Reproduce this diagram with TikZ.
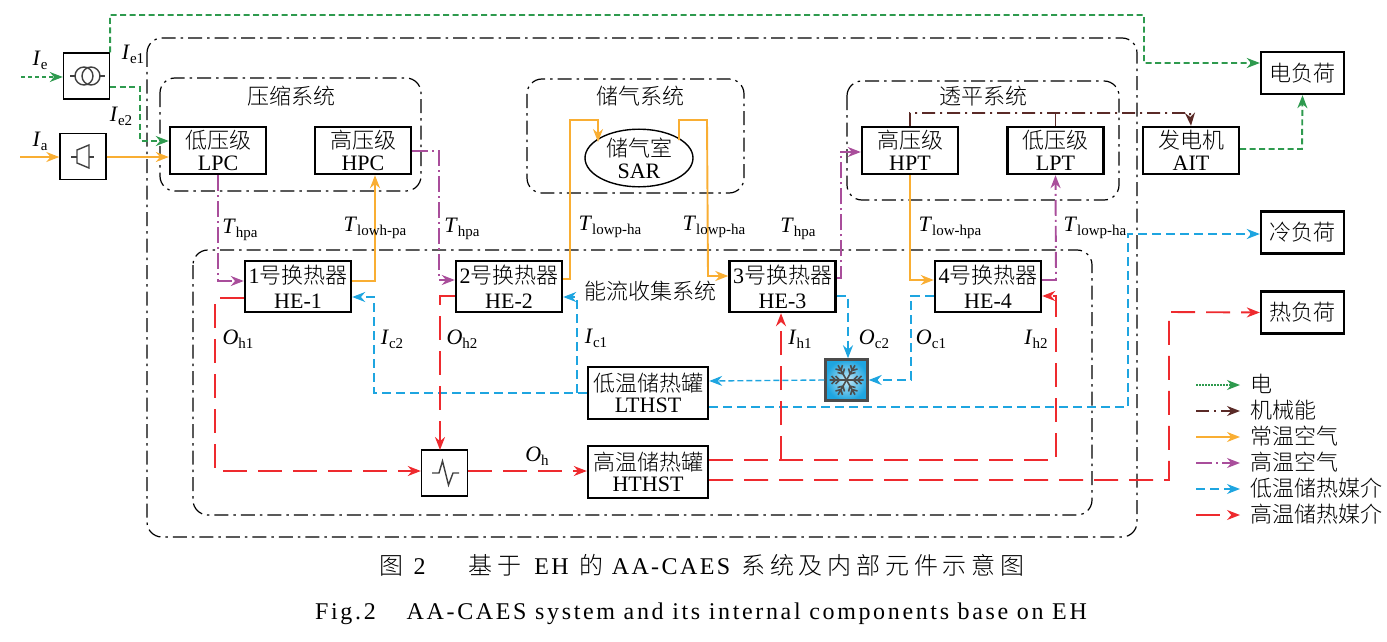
\documentclass[tikz,border=0pt]{standalone}
\usepackage{fontspec}
\setmainfont{Liberation Serif}
\newfontfamily\cjk{Noto Sans CJK SC Light}
\newfontfamily\capcjk[LetterSpace=20]{Noto Sans CJK SC Light}
\newfontfamily\capfont[LetterSpace=10]{Liberation Serif}
\newfontfamily\capwide[LetterSpace=11]{Liberation Serif}
\usetikzlibrary{shapes.geometric, arrows.meta, positioning, calc}
\newcommand{\cn}[1]{{\cjk #1}}
\newcommand{\qlabel}[2]{\textit{#1}\raisebox{-4pt}{\fontsize{15}{15}\selectfont #2}}
\definecolor{elecc}{HTML}{2E9A4E}
\definecolor{mechc}{HTML}{5A2A27}
\definecolor{airc}{HTML}{F9AE33}
\definecolor{hotairc}{HTML}{A94E9B}
\definecolor{coldc}{HTML}{1EA5E0}
\definecolor{heatc}{HTML}{EE2A2E}
\tikzset{
  tip/.style={-{Stealth[length=13pt,width=10pt]}},
  unit/.style={draw, line width=2.4pt, fill=white, align=center, inner sep=0pt, font=\fontsize{22}{22}\selectfont},
  compbox/.style={unit, minimum width=96pt, minimum height=47pt},
  hebox/.style={unit, minimum width=106pt, minimum height=51pt},
  tankbox/.style={unit, minimum width=120pt, minimum height=52pt},
  loadbox/.style={unit, minimum width=83pt, minimum height=42pt},
  symbox/.style={draw, line width=1.4pt, minimum width=46pt, minimum height=46pt, inner sep=0pt},
  frame/.style={line width=1.2pt, rounded corners=15pt, dash pattern=on 14pt off 5pt on 2.5pt off 5pt},
  sysname/.style={font=\fontsize{22}{22}\selectfont},
  qty/.style={font=\fontsize{22}{22}\selectfont, inner sep=0pt},
  elecline/.style={color=elecc, line width=1.9pt, dash pattern=on 6pt off 3.5pt},
  mechline/.style={color=mechc, line width=1.9pt, dash pattern=on 13pt off 5pt on 2pt off 5pt},
  airline/.style={color=airc, line width=1.9pt},
  hotline/.style={color=hotairc, line width=1.9pt, dash pattern=on 16pt off 4pt on 2pt off 4pt},
  coldline/.style={color=coldc, line width=1.9pt, dash pattern=on 9pt off 5pt},
  heatline/.style={color=heatc, line width=1.9pt, dash pattern=on 24pt off 11pt},
  legelec/.style={elecline, dash pattern=on 1.5pt off 1.5pt},
  symline/.style={line width=1.4pt, color=black!75},
}
\begin{document}
\begin{tikzpicture}[x=1pt,y=-1pt]
\useasboundingbox (0,0) rectangle (1387,642);
% system frames
\draw[frame] (147,38) rectangle (1137,537);
\draw[frame] (160,78) rectangle (421,191);
\draw[frame] (527,79) rectangle (744,193);
\draw[frame] (847,81) rectangle (1119,200);
\draw[frame] (193,250) rectangle (1092,515);
\node[sysname] (ncomp) at (291,96) {\cn{压缩系统}};
\node[sysname] (nstor) at (640,96) {\cn{储气系统}};
\node[sysname] (nturb) at (983,96) {\cn{透平系统}};
\node[sysname] (ncoll) at (650,291) {\cn{能流收集系统}};

% units
\node[symbox] (xfm) at (86.5,76) {};
\node[symbox] (cmp) at (83,156.5) {};
\node[symbox] (htx) at (444.5,473) {};
\node[compbox] (lpc) at (218,150.5) {\cn{低压级}\\LPC};
\node[compbox] (hpc) at (363,150.5) {\cn{高压级}\\HPC};
\node[compbox] (hpt) at (910,150.5) {\cn{高压级}\\HPT};
\node[compbox] (lpt) at (1055.5,150.5) {\cn{低压级}\\LPT};
\node[compbox] (ait) at (1191,150.5) {\cn{发电机}\\AIT};
\node[unit, ellipse, minimum width=108pt, minimum height=52pt, line width=1.4pt] (sar) at (639,158) {\cn{储气室}\\SAR};
\node[hebox] (he1) at (298,286.5) {1\cn{号换热器}\\[3pt]HE-1};
\node[hebox] (he2) at (509,286.5) {2\cn{号换热器}\\[3pt]HE-2};
\node[hebox] (he3) at (782.5,286.5) {3\cn{号换热器}\\[3pt]HE-3};
\node[hebox] (he4) at (988,286.5) {4\cn{号换热器}\\[3pt]HE-4};
\node[tankbox] (lthst) at (648,393) {\cn{低温储热罐}\\[-1pt]LTHST};
\node[tankbox] (hthst) at (648,472) {\cn{高温储热罐}\\[-1pt]HTHST};
\node[loadbox] (eload) at (1302.5,73) {\cn{电负荷}};
\node[loadbox] (cload) at (1302.5,232.5) {\cn{冷负荷}};
\node[loadbox] (hload) at (1302.5,312.5) {\cn{热负荷}};
\node[draw=black!70, line width=2.4pt, minimum width=42pt, minimum height=41pt, inner sep=0pt, inner color=coldc!25, outer color=coldc] (snow) at (846.5,380) {};

% symbols
\draw[symline] (70,76) -- (75,76) (100,76) -- (105,76);
\draw[symline] (84,76) circle (9) (91,76) circle (9);
\draw[symline] (71,157) -- (77,157) (89,157) -- (94,157);
\draw[symline] (77,150) -- (89,145) -- (89,168) -- (77,163) -- cycle;
\draw[symline] (432,473) -- (439,473) -- (442.5,461) -- (448.5,485) -- (453,473) -- (459,473);
\begin{scope}[shift={(snow.center)}]
\foreach \ang in {0,60,...,300}
  \draw[line width=1.6pt, color=black!70, rotate=\ang] (0,0) -- (17,0) (7,0) -- (11,-4) (7,0) -- (11,4) (11,0) -- (15,-4) (11,0) -- (15,4);
\end{scope}

% electricity
\draw[elecline, tip] (xfm.north east) -- (110,15) -- (1144,15) -- (1144,63) -- ([yshift=10pt]eload.west);
\coordinate (ein) at (21,77);
\draw[elecline, tip, line width=1.2pt, dash pattern=on 4pt off 3pt] (ein) -- (xfm.west |- ein);
\draw[elecline, tip] ([yshift=-11pt]xfm.east) -- (140,87) -- (140,141) -- ([yshift=9.5pt]lpc.west);
\draw[elecline, tip] ([yshift=1.5pt]ait.east) -- (1302,149) -- (eload.south);
% mechanical
\draw[mechline, solid] (lpt.north) -- ++(0,-14);
\draw[mechline, tip] (hpt.north) -- (910,113) -- (1190,113) -- (ait.north);
% normal air
\coordinate (ain) at (20,157);
\draw[airline, tip, line width=1.4pt] (ain) -- (cmp.west |- ain);
\draw[airline, tip, line width=1.4pt] (cmp.east |- ain) -- ([yshift=-6.5pt]lpc.west);
\draw[airline, tip] ([yshift=5.5pt]he1.east) -- (375,281) -- ([xshift=12pt]hpc.south);
\draw[airline, tip] ([yshift=7.5pt]he2.east) -- (570,279) -- (570,120) -- (598,120) -- (598,142);
\draw[airline, tip] (679,140) -- (679,120) -- (707,120) -- (708,276) -- ([yshift=10.5pt]he3.west);
\draw[airline, tip] (hpt.south) -- (910,280) -- ([yshift=6.5pt]he4.west);
% hot air
\draw[hotline, tip] (lpc.south) -- (218,281) -- ([yshift=5.5pt]he1.west);
\draw[hotline, tip] ([yshift=-0.5pt]hpc.east) -- (439,151) -- (439,280) -- ([yshift=6.5pt]he2.west);
\draw[hotline, tip] ([yshift=8.5pt]he3.east) -- (841,278) -- (841,152) -- ([yshift=-1.5pt]hpt.west);
\draw[hotline, tip] ([yshift=6.5pt]he4.east) -- (1056,280) -- (lpt.south);
% cold medium
\draw[coldline, tip] ([yshift=-9.5pt]he3.east) -- (848,296) -- (snow.north -| 848,0);
\draw[coldline, tip] ([yshift=-9.5pt]he4.west) -- (911,296) -- (911,380) -- (snow.east);
\draw[coldline, tip, line width=1.4pt, dash pattern=on 6pt off 3pt] (snow.west) -- ([yshift=12pt]lthst.east);
\draw[coldline, tip] ([yshift=-14pt]lthst.east) -- (1128,407) -- (1128,234) -- ([yshift=-1.5pt]cload.west);
\draw[coldline, tip] (lthst.west) -- (374,393) -- (374,297) -- ([yshift=-10.5pt]he1.east);
\draw[coldline, tip] (577,393) -- (577,297) -- ([yshift=-10.5pt]he2.east);
% hot medium
\draw[heatline, tip] ([yshift=-11.5pt]he1.west) -- (215,298) -- (215,471) -- ([yshift=2pt]htx.west);
\draw[heatline, tip] ([yshift=-9.5pt]he2.west) -- (440,296) -- (440,450);
\draw[heatline, tip, line width=1.3pt] ([yshift=2pt]htx.east) -- ([yshift=1pt]hthst.west);
\draw[heatline, tip] ([yshift=12pt]hthst.east) -- (1056,460) -- (1056,296) -- ([yshift=-9.5pt]he4.east);
\draw[heatline, tip] (781,460) -- (he3.south -| 781,0);
\draw[heatline, tip] ([yshift=-8pt]hthst.east) -- (1169,480) -- (1169,312) -- (hload.west);

% quantities
\node[qty] (ie) at (40,60) {\qlabel{I}{e}};
\node[qty] (ie1) at (133,54) {\qlabel{I}{e1}};
\node[qty] (ie2) at (121,116) {\qlabel{I}{e2}};
\node[qty] (ia) at (40,141) {\qlabel{I}{a}};
\node[qty] (thpa1) at (240,230) {\qlabel{T}{hpa}};
\node[qty] (tlowh) at (375,228) {\qlabel{T}{lowh-pa}};
\node[qty] (thpa2) at (462,229) {\qlabel{T}{hpa}};
\node[qty] (tlowp1) at (610,227) {\qlabel{T}{lowp-ha}};
\node[qty] (tlowp2) at (714,227) {\qlabel{T}{lowp-ha}};
\node[qty] (thpa3) at (798,229) {\qlabel{T}{hpa}};
\node[qty] (tlowh2) at (950,228) {\qlabel{T}{low-hpa}};
\node[qty] (tlowp3) at (1095,228) {\qlabel{T}{lowp-ha}};
\node[qty] (oh1) at (238,339) {\qlabel{O}{h1}};
\node[qty] (ic2) at (392,339) {\qlabel{I}{c2}};
\node[qty] (oh2) at (462,339) {\qlabel{O}{h2}};
\node[qty] (ic1) at (596,338) {\qlabel{I}{c1}};
\node[qty] (oh) at (537,456) {\qlabel{O}{h}};
\node[qty] (ih1) at (800,339) {\qlabel{I}{h1}};
\node[qty] (oc2) at (874,339) {\qlabel{O}{c2}};
\node[qty] (oc1) at (931,339) {\qlabel{O}{c1}};
\node[qty] (ih2) at (1036,339) {\qlabel{I}{h2}};

% legend
\foreach \i/\ypos/\sty/\txt in {1/385/legelec/电, 2/411/mechline/机械能, 3/437/airline/常温空气, 4/463/hotline/高温空气, 5/489/coldline/低温储热媒介, 6/515/heatline/高温储热媒介} {
  \coordinate (lgs\i) at (1196,\ypos);
  \node[sysname, anchor=west, inner sep=0pt] (lg\i) at (1250,\ypos-1) {\cn{\txt}};
  \draw[\sty, tip, line width=1.3pt] (lgs\i) -- (1240,\ypos);
}

% captions
\node[font=\fontsize{24}{24}\selectfont] (cap1) at (702,565) {{\capcjk 图}\hspace{10pt}{\capfont 2}\hspace{43pt}{\capcjk 基于}\hspace{13pt}{\capfont EH}\hspace{11pt}{\capcjk 的}\hspace{8pt}{\capfont AA-CAES}\hspace{11pt}{\capcjk 系统及内部元件示意图}};
\node[font=\fontsize{24}{24}\selectfont] (cap2) at (701,614) {\capwide Fig.2\hspace{31pt}AA-CAES system and its internal components base on EH};
\end{tikzpicture}
\end{document}
